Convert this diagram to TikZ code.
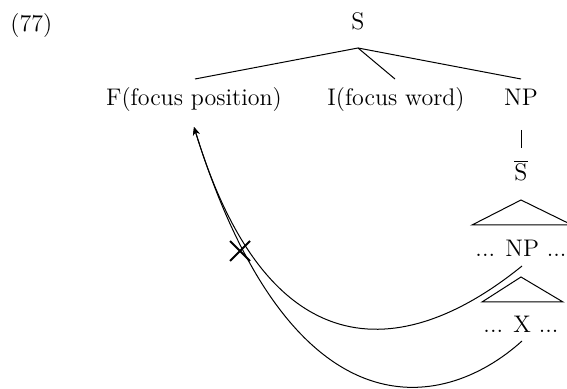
\documentclass[tikz,border=0pt]{standalone}
\usetikzlibrary{arrows.meta,shapes.misc}
\begin{document}
\begin{tikzpicture}[x=0.5pt,y=-0.5pt,
  lbl/.style={inner sep=0pt, anchor=base, font=\fontsize{12}{14}\selectfont},
  edge/.style={line width=0.5pt},
  move/.style={line width=0.5pt, -{Stealth[length=4pt,width=3.5pt]}},
  badmark/.style={draw, cross out, line width=1pt, minimum size=9pt, inner sep=0pt}]
\useasboundingbox (0,0) rectangle (567,389);
% labels
\node[lbl, anchor=base west] (ex) at (10,32) {(77)};
\node[lbl] (s) at (358,30) {S};
\node[lbl] (f) at (194,106) {F(focus position)};
\node[lbl] (i) at (396,106) {I(focus word)};
\node[lbl] (np) at (521,106) {NP};
\node[lbl] (sbar) at (521,181) {$\overline{\mathrm{S}}$};
\node[lbl] (np2) at (521,257) {... NP ...};
\node[lbl] (xx) at (521,333) {... X ...};
% tree coordinates
\coordinate (apex) at (358,48);
\coordinate (fTop) at (195,79);
\coordinate (iTop) at (395,79);
\coordinate (npTop) at (521,79);
\coordinate (npBot) at (521,130);
\coordinate (sbarTop) at (521,148);
\coordinate (t1a) at (521,200);
\coordinate (t1l) at (472,225);
\coordinate (t1r) at (572,225);
\coordinate (t2a) at (521,277);
\coordinate (t2l) at (482,302);
\coordinate (t2r) at (563,302);
\coordinate (c1s) at (522,266);
\coordinate (c2s) at (522,341);
\coordinate (ftip) at (194,127);
% tree
\draw[edge] (fTop) -- (apex) -- (npTop);
\draw[edge] (apex) -- (iTop);
\draw[edge] (npBot) -- (sbarTop);
\draw[edge] (t1a) -- (t1l) -- (t1r) -- cycle;
\draw[edge] (t2a) -- (t2l) -- (t2r) -- cycle;
% movement arrows
\draw[move] (c1s) .. controls (400,365) and (267,367) .. (ftip);
\draw[move] (c2s) .. controls (440,415) and (290,435) .. (ftip);
\node[badmark] (bad) at (240,251) {};
\end{tikzpicture}
\end{document}
